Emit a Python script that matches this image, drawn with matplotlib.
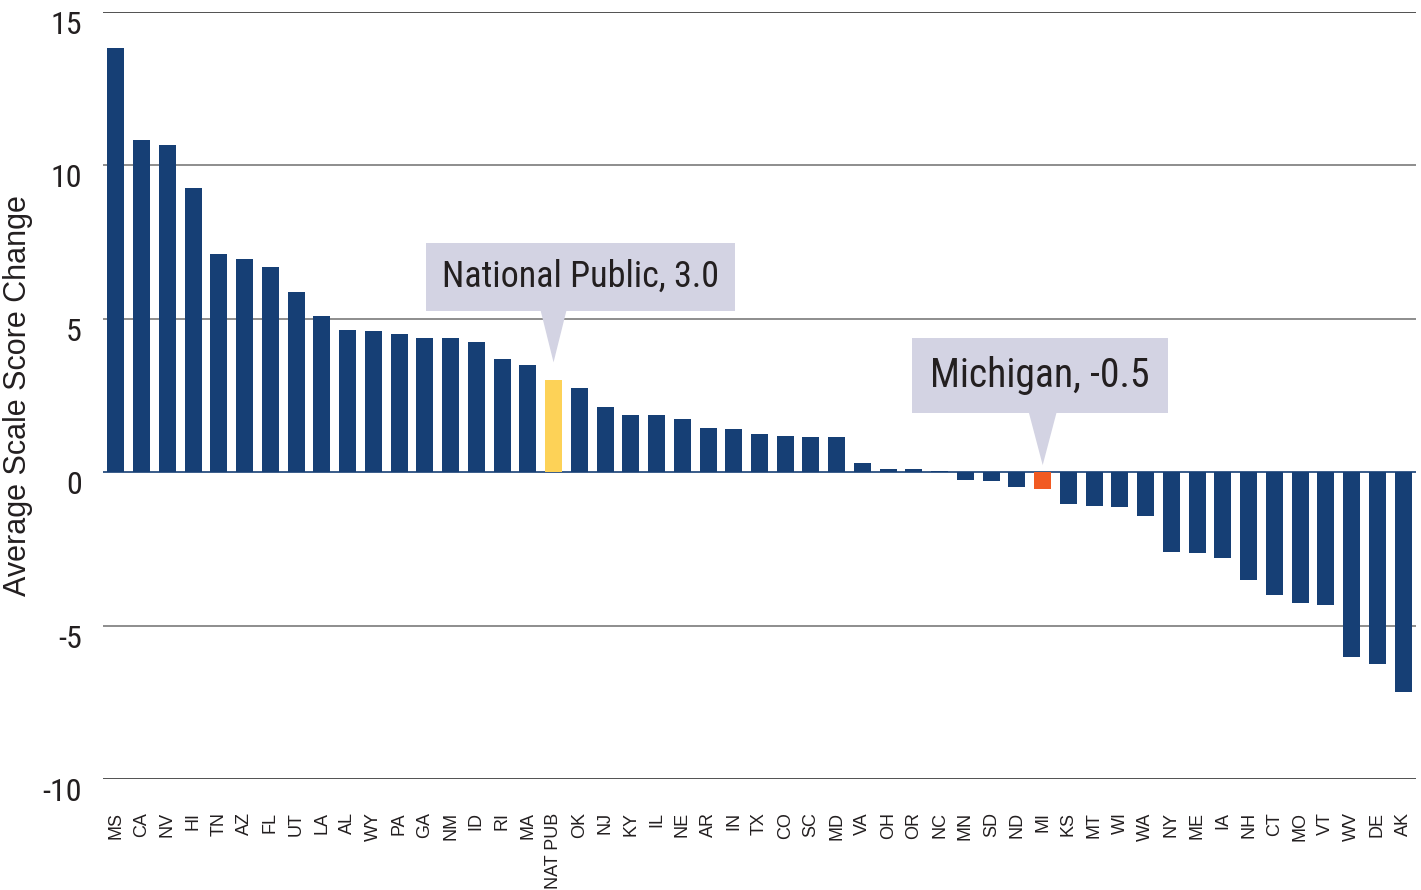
import matplotlib
matplotlib.use('Agg')
import matplotlib.pyplot as plt
import matplotlib.transforms as mtransforms
from matplotlib import font_manager

# data
states = ['MS', 'CA', 'NV', 'HI', 'TN', 'AZ', 'FL', 'UT', 'LA', 'AL', 'WY', 'PA',
          'GA', 'NM', 'ID', 'RI', 'MA', 'NAT PUB', 'OK', 'NJ', 'KY', 'IL', 'NE',
          'AR', 'IN', 'TX', 'CO', 'SC', 'MD', 'VA', 'OH', 'OR', 'NC', 'MN', 'SD',
          'ND', 'MI', 'KS', 'MT', 'WI', 'WA', 'NY', 'ME', 'IA', 'NH', 'CT', 'MO',
          'VT', 'WV', 'DE', 'AK']
changes = [13.84, 10.82, 10.66, 9.26, 7.1, 6.94, 6.68, 5.87, 5.1, 4.63, 4.6, 4.5,
           4.37, 4.37, 4.24, 3.68, 3.49, 3.0, 2.74, 2.12, 1.86, 1.86, 1.73,
           1.43, 1.4, 1.24, 1.17, 1.14, 1.14, 0.29, 0.1, 0.1, 0.03, -0.25, -0.28,
           -0.48, -0.55, -1.03, -1.1, -1.14, -1.42, -2.6, -2.63, -2.8, -3.52, -4.0, -4.27,
           -4.33, -6.03, -6.25, -7.17]
yticks = [-10, -5, 0, 5, 10, 15]
ytick_labels = ['-10', '-5', '0', '5', '10', '15']

callouts = {'NAT PUB': 'National Public, 3.0', 'MI': 'Michigan, -0.5'}
callout_colors = {'NAT PUB': '#fdd257', 'MI': '#f15a22'}
# (box centre offset x in bars, box centre y, font size, gap above bar, half base)
callout_style = {'NAT PUB': (1.05, 6.37, 26, 0.58, 0.68),
                 'MI': (-0.1, 3.15, 28.5, 0.23, 0.76)}

blue = '#163f75'
boxcol = '#d3d3e3'
txtcol = '#231f20'

names = {f.name for f in font_manager.fontManager.ttflist}
narrow_kw = dict(family='DejaVu Sans', stretch='condensed')
for n in ['Liberation Sans Narrow', 'Roboto Condensed', 'Open Sans Condensed']:
    if n in names:
        narrow_kw = dict(family=n)
        break

fig = plt.figure(figsize=(14.21, 8.9), dpi=100)
ax = fig.add_axes([103 / 1421, 1 - 779 / 890, (1416 - 103) / 1421, (779 - 12) / 890])

colors = [callout_colors.get(s, blue) for s in states]
x = list(range(len(states)))
ax.bar(x, changes, width=0.66, color=colors, zorder=3)

for t in yticks:
    if t == 0:
        continue
    c = '#333333' if t in (15, -10) else '#7a7a7a'
    ax.axhline(t, color=c, lw=1.2, zorder=1)
ax.axhline(0, color=blue, lw=1.2, zorder=2)

ax.set_xlim(-0.5, len(states) - 0.5)
ax.set_ylim(-10, 15)
for sp in ax.spines.values():
    sp.set_visible(False)

ax.set_xticks(x)
ax.set_xticklabels(states, rotation=90, fontsize=13, color=txtcol,
                   family='Liberation Sans')
ax.tick_params(axis='x', length=0, pad=24)

# y numbers hang just under their grid line in the original
ax.set_yticks([])
ylab_trans = mtransforms.blended_transform_factory(ax.transAxes, ax.transData)
ylab_trans = ylab_trans + mtransforms.ScaledTranslation(-21 / 100, 1 / 100, fig.dpi_scale_trans)
for t, lab in zip(yticks, ytick_labels):
    ax.text(0, t, lab, transform=ylab_trans, ha='right', va='top',
            fontsize=23, color=txtcol, **narrow_kw)

y_mid = 1 - (12 + 779) / 2 / 890
fig.text(18 / 1421, y_mid, 'Average Scale Score Change', rotation=90,
         ha='center', va='center', fontsize=22, color=txtcol,
         family='Liberation Sans')

for s, label in callouts.items():
    i = states.index(s)
    v = changes[i]
    dx, yc, fs, gap, hw = callout_style[s]
    tip = max(v, 0) + gap
    ax.text(i + dx, yc, label, ha='center', va='center', fontsize=fs,
            color=txtcol, zorder=5, **narrow_kw,
            bbox=dict(boxstyle='square,pad=0.45', fc=boxcol, ec='none'))
    ax.fill([i - hw, i + hw, i], [yc - 0.5, yc - 0.5, tip],
            color=boxcol, lw=0, zorder=4)

fig.savefig('out.png', dpi=100)
